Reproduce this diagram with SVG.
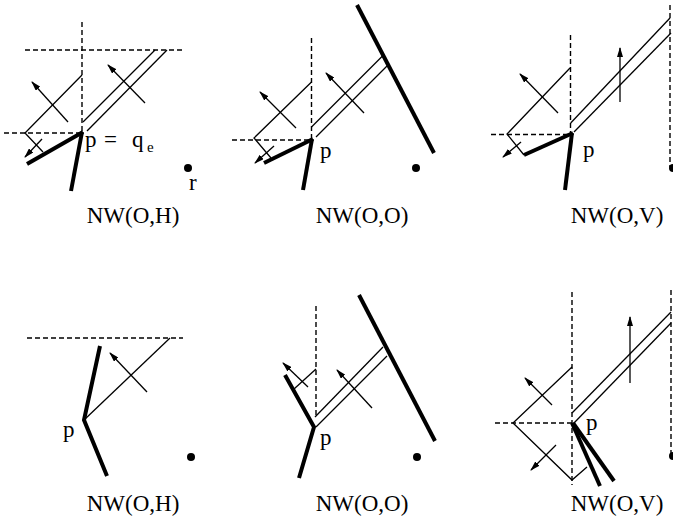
<svg xmlns="http://www.w3.org/2000/svg" width="673" height="524" viewBox="0 0 673 524">
<style>
.d{stroke:#000;stroke-width:1.4;stroke-dasharray:5,3;fill:none}
.t{stroke:#000;stroke-width:1.3;fill:none}
.k{stroke:#000;stroke-width:4;fill:none;stroke-linecap:butt}
.a{stroke:#000;stroke-width:1.3;fill:none;marker-end:url(#ah)}
text{font-family:"Liberation Serif","Times New Roman",serif;fill:#000}
.lb{font-size:23px;text-anchor:middle}
.pl{font-size:23px}
</style>
<defs>
<marker id="ah" viewBox="0 0 10 6" refX="9" refY="3" markerWidth="10" markerHeight="6" markerUnits="userSpaceOnUse" orient="auto">
<path d="M0,0 L10,3 L0,6 Z" fill="#000"/>
</marker>
</defs>
<rect width="673" height="524" fill="#fff"/>

<g id="panel1">
<line class="d" x1="82" y1="22" x2="82" y2="133"/>
<line class="d" x1="25" y1="50" x2="182" y2="50"/>
<line class="d" x1="4" y1="133" x2="82" y2="133"/>
<line class="t" x1="83" y1="122" x2="155" y2="50"/>
<line class="t" x1="87" y1="131" x2="167" y2="50"/>
<polyline class="t" points="82,75 25,133 43,152"/>
<line class="k" x1="83" y1="132" x2="27" y2="164"/>
<line class="k" x1="82" y1="132" x2="71" y2="191"/>
<line class="a" x1="68" y1="122" x2="32" y2="82"/>
<line class="a" x1="145" y1="103" x2="108" y2="65"/>
<line class="a" x1="42" y1="139" x2="25" y2="157"/>
<circle cx="188" cy="168" r="4"/>
<text class="pl" x="189" y="190" font-size="20">r</text>
<text class="pl" y="147"><tspan x="85">p</tspan><tspan x="104">=</tspan><tspan x="132">q</tspan><tspan x="147" dy="5" font-size="15">e</tspan></text>
<text class="lb" x="133" y="223">NW(O,H)</text>
</g>

<g id="panel2">
<line class="d" x1="311.5" y1="38" x2="311.5" y2="138"/>
<line class="d" x1="232" y1="140" x2="312" y2="140"/>
<line class="k" x1="357" y1="5" x2="434" y2="153"/>
<line class="t" x1="311.5" y1="127" x2="383" y2="55.5"/>
<line class="t" x1="316" y1="137" x2="388" y2="65"/>
<polyline class="t" points="311.5,82 254,138 271,158"/>
<line class="k" x1="313" y1="139" x2="264" y2="163"/>
<line class="k" x1="312" y1="139" x2="303" y2="190"/>
<line class="a" x1="296" y1="128" x2="260" y2="92"/>
<line class="a" x1="364" y1="113" x2="326" y2="73"/>
<line class="a" x1="274" y1="146" x2="255" y2="163"/>
<circle cx="416" cy="168" r="4"/>
<text class="pl" x="320" y="158">p</text>
<text class="lb" x="362" y="223">NW(O,O)</text>
</g>

<g id="panel3">
<line class="d" x1="570.5" y1="35" x2="570.5" y2="133"/>
<line class="d" x1="491" y1="134.5" x2="572" y2="134.5"/>
<line class="d" x1="670" y1="5" x2="670" y2="167"/>
<circle cx="673" cy="168" r="4"/>
<line class="t" x1="570.7" y1="123" x2="670" y2="18"/>
<line class="t" x1="574" y1="132" x2="671" y2="33"/>
<line class="a" x1="620" y1="102" x2="620" y2="48"/>
<polyline class="t" points="570,68 507,134 524,155"/>
<line class="a" x1="558" y1="113" x2="520" y2="74"/>
<line class="a" x1="521" y1="142" x2="503" y2="157"/>
<line class="k" x1="573" y1="133" x2="524" y2="155"/>
<line class="k" x1="572" y1="133" x2="565" y2="190"/>
<text class="pl" x="583" y="157">p</text>
<text class="lb" x="617" y="223">NW(O,V)</text>
</g>

<g id="panel4">
<line class="d" x1="27" y1="338" x2="183" y2="338"/>
<line class="t" x1="84" y1="420" x2="170" y2="338"/>
<polyline class="k" points="100,346 84,420 107,476"/>
<line class="a" x1="147" y1="392" x2="110" y2="353"/>
<circle cx="191" cy="457" r="4"/>
<text class="pl" x="63" y="437">p</text>
<text class="lb" x="133" y="511">NW(O,H)</text>
</g>

<g id="panel5">
<line class="d" x1="316" y1="306" x2="316" y2="417"/>
<line class="k" x1="359" y1="295" x2="435" y2="441"/>
<line class="t" x1="315" y1="417" x2="383" y2="347"/>
<line class="t" x1="316" y1="427" x2="387" y2="356"/>
<polyline class="k" points="285,375 314,427 299,478"/>
<line class="t" x1="316" y1="369" x2="294" y2="389"/>
<line class="a" x1="308" y1="387" x2="283" y2="363"/>
<line class="a" x1="372" y1="408" x2="337" y2="370"/>
<circle cx="417" cy="457" r="4"/>
<text class="pl" x="320" y="445">p</text>
<text class="lb" x="362" y="511">NW(O,O)</text>
</g>

<g id="panel6">
<line class="d" x1="572" y1="292" x2="572" y2="485"/>
<line class="d" x1="495" y1="423" x2="572" y2="423"/>
<line class="d" x1="671" y1="290" x2="671" y2="455"/>
<circle cx="673" cy="456" r="4"/>
<polyline class="t" points="572,367 513,423 572,480 587,467"/>
<line class="a" x1="552" y1="405" x2="525" y2="378"/>
<line class="a" x1="556" y1="445" x2="531" y2="470"/>
<line class="t" x1="572" y1="413" x2="671" y2="312"/>
<line class="t" x1="574" y1="423" x2="671" y2="323"/>
<line class="a" x1="630" y1="383" x2="630" y2="317"/>
<line class="k" x1="572" y1="423" x2="600" y2="486"/>
<line class="k" x1="573" y1="423" x2="614" y2="481"/>
<text class="pl" x="586" y="430">p</text>
<text class="lb" x="617" y="511">NW(O,V)</text>
</g>
</svg>
